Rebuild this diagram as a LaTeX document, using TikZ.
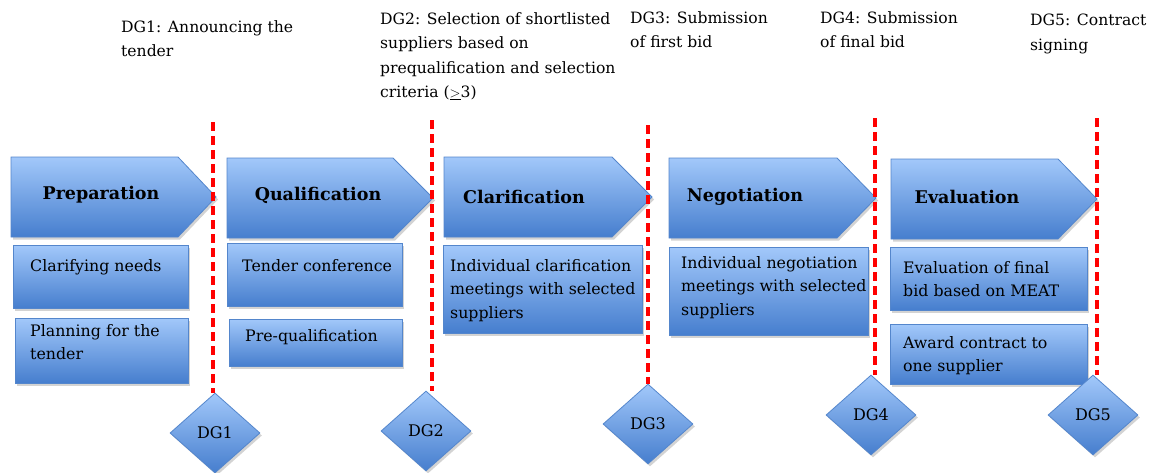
\documentclass[tikz,border=0pt]{standalone}
\usepackage{fontspec}
\setmainfont{DejaVu Serif}
\usetikzlibrary{shapes.geometric,shadows}
\definecolor{boxtop}{RGB}{162,200,250}
\definecolor{boxbot}{RGB}{70,126,206}
\definecolor{boxline}{RGB}{84,134,204}
\tikzset{
  phase/.style={draw=boxline, line width=0.8pt, top color=boxtop, bottom color=boxbot,
    drop shadow={shadow xshift=2pt, shadow yshift=-2.5pt, opacity=0.35}},
  heading/.style={inner sep=0pt, font=\fontsize{17.5}{22}\selectfont\bfseries},
  boxtext/.style={anchor=north west, inner sep=0pt, align=left, font=\fontsize{15.8}{23.5}\selectfont},
  gatetext/.style={anchor=north west, inner sep=0pt, align=left, font=\fontsize{15.6}{24.5}\selectfont},
  gate/.style={shape=diamond, phase, minimum width=90pt, minimum height=80pt, inner sep=0pt,
    font=\fontsize{16}{19}\selectfont},
  gateline/.style={draw=red, line width=4.5pt, dash pattern=on 9pt off 5pt}
}
\begin{document}
\begin{tikzpicture}[x=1pt,y=-1pt]
\useasboundingbox (0,0) rectangle (1150,472);

% phases
\path[phase] (11,157) -- (178,157) -- (216,197) -- (178,237) -- (11,237) -- cycle;
\path[phase] (227,158) -- (393,158) -- (433,198) -- (393,238) -- (227,238) -- cycle;
\path[phase] (444,157) -- (612,157) -- (652,197) -- (612,237) -- (444,237) -- cycle;
\path[phase] (669,158) -- (837,158) -- (876,198) -- (837,238) -- (669,238) -- cycle;
\path[phase] (891,159) -- (1058,159) -- (1097,199) -- (1058,239) -- (891,239) -- cycle;

\node[heading] (prep) at (101,195) {Preparation};
\node[heading] (qual) at (318,195) {Qualification};
\node[heading] (clar) at (524,197) {Clarification};
\node[heading] (nego) at (745,197) {Negotiation};
\node[heading] (eval) at (967,197) {Evaluation};

% activities
\path[phase] (13,245) rectangle (188,308);
\path[phase] (15,318) rectangle (188,383);
\path[phase] (227,243) rectangle (402,306);
\path[phase] (229,319) rectangle (402,366);
\path[phase] (443,245) rectangle (642,333);
\path[phase] (669,247) rectangle (868,335);
\path[phase] (890,247) rectangle (1087,310);
\path[phase] (890,324) rectangle (1087,384);

\node[boxtext] (needs) at (30,259) {Clarifying needs};
\node[boxtext] (plan) at (30,324) {Planning for the\\tender};
\node[boxtext] (conf) at (242,259) {Tender conference};
\node[boxtext] (prequal) at (245,329) {Pre-qualification};
\node[boxtext] (clarmeet) at (450,259) {Individual clarification\\meetings with selected\\suppliers};
\node[boxtext] (negmeet) at (681,256) {Individual negotiation\\meetings with selected\\suppliers};
\node[boxtext] (meat) at (903,261) {Evaluation of final\\bid based on MEAT};
\node[boxtext] (award) at (903,336) {Award contract to\\one supplier};

% decision gates
\node[gate] (dg1) at (215,433) {DG1};
\node[gate] (dg2) at (426,431) {DG2};
\node[gate] (dg3) at (648,424) {DG3};
\node[gate] (dg4) at (871,415) {DG4};
\node[gate] (dg5) at (1093,415) {DG5};

\coordinate (top1) at (213,122);
\coordinate (top2) at (432,120);
\coordinate (top3) at (648,125);
\coordinate (top4) at (875,118);
\coordinate (top5) at (1097,118);
\draw[gateline] (top1) -- (top1 |- dg1.north);
\draw[gateline] (top2) -- (top2 |- dg2.north);
\draw[gateline] (top3) -- (top3 |- dg3.north);
\draw[gateline] (top4) -- (top4 |- dg4.north);
\draw[gateline] (top5) -- (top5 |- dg5.north);

\node[gatetext] (dg1txt) at (121,20) {DG1: Announcing the\\tender};
\node[gatetext] (dg2txt) at (380,12) {DG2: Selection of shortlisted\\suppliers based on\\prequalification and selection\\criteria ($\underline{>}$3)};
\node[gatetext] (dg3txt) at (630,11) {DG3: Submission\\of first bid};
\node[gatetext] (dg4txt) at (820,11) {DG4: Submission\\of final bid};
\node[gatetext] (dg5txt) at (1030,14) {DG5: Contract\\signing};

\end{tikzpicture}
\end{document}
